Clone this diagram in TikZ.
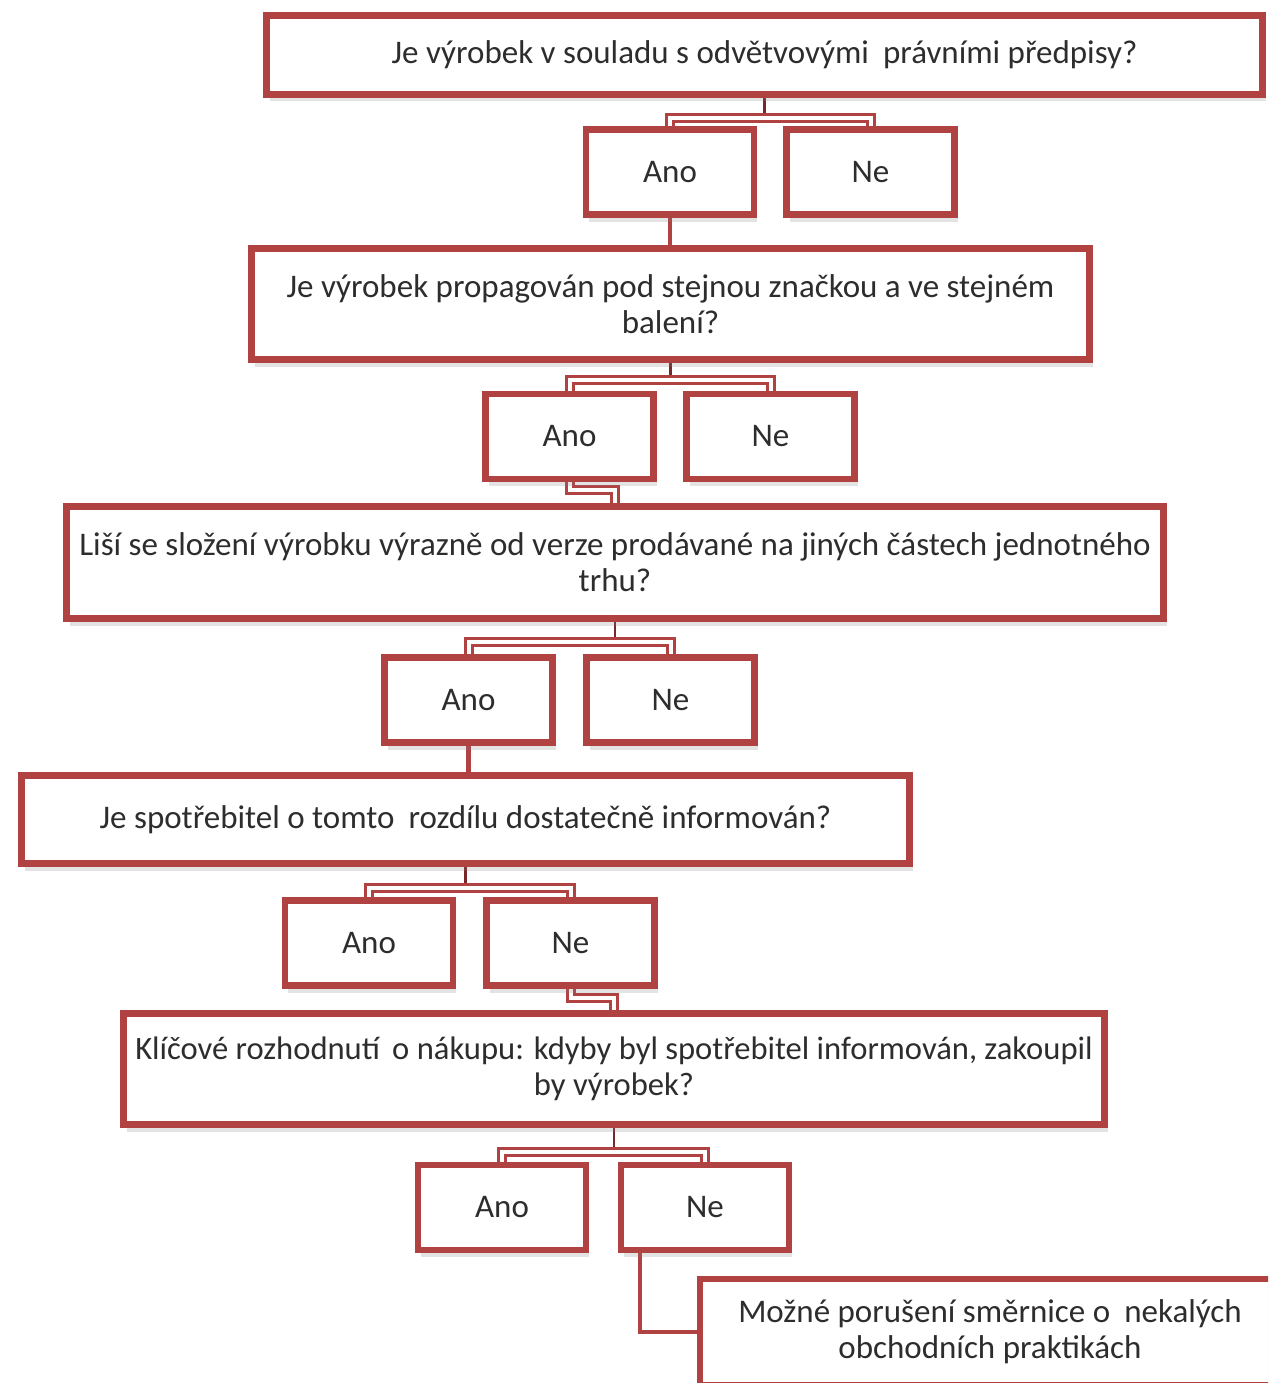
\documentclass[tikz,border=0pt]{standalone}
\usepackage{fontspec}
\setmainfont{Carlito}
\usetikzlibrary{shadows,backgrounds}
\definecolor{boxred}{RGB}{176,66,66}
\definecolor{txt}{RGB}{45,45,45}
\definecolor{stemc}{RGB}{120,40,40}
\begin{document}
\begin{tikzpicture}[x=1pt,y=-1pt,
  every node/.style={font=\fontsize{33}{36}\selectfont, text=txt},
  qbox/.style={draw=boxred, line width=6.5pt, fill=white, rectangle,
    inner sep=0pt, outer sep=0pt, align=center,
    drop shadow={shadow xshift=3pt, shadow yshift=-7pt, opacity=0.22}},
  abox/.style={qbox, minimum width=168pt, minimum height=85pt},
  dbl/.style={draw=boxred, line width=3pt, double=white, double distance=4pt},
  yeslink/.style={draw=boxred, line width=4.5pt},
  stemline/.style={draw=stemc, line width=2.2pt}
]
\useasboundingbox (0,0) rectangle (1268,1383);
\begin{scope}[on background layer]
  \fill[white] (0,0) rectangle (1268,1383);
\end{scope}
\clip (0,0) rectangle (1268,1383);

% question boxes
\node[qbox, minimum width=996pt, minimum height=79pt] (q1) at (764.5,55)
  {Je výrobek v souladu s odvětvovými\hspace{0.2em} právními předpisy?};
\node[qbox, minimum width=838pt, minimum height=111pt] (q2) at (670.5,304)
  {Je výrobek propagován pod stejnou značkou a ve stejném\\balení?};
\node[qbox, minimum width=1097pt, minimum height=112pt] (q3) at (615,562.5)
  {Liší se složení výrobku výrazně od verze prodávané na jiných částech jednotného\\trhu?};
\node[qbox, minimum width=888pt, minimum height=88pt] (q4) at (465.5,819.5)
  {Je spotřebitel o tomto\hspace{0.2em} rozdílu dostatečně informován?};
\node[qbox, minimum width=981pt, minimum height=111pt, font=\fontsize{32.6}{36}\selectfont] (q5) at (614,1069)
  {Klíčové rozhodnutí\hspace{0.15em} o nákupu: kdyby byl spotřebitel informován, zakoupil\\by výrobek?};
\node[qbox, minimum width=580pt, minimum height=106pt] (q6) at (990,1332)
  {Možné porušení směrnice o\hspace{0.2em} nekalých\\obchodních praktikách};

% answer boxes
\node[abox] (a1) at (670,172) {Ano};
\node[abox] (n1) at (870.5,172) {Ne};
\node[abox] (a2) at (569.5,436.5) {Ano};
\node[abox] (n2) at (770.5,436.5) {Ne};
\node[abox] (a3) at (468.5,700) {Ano};
\node[abox] (n3) at (670.5,700) {Ne};
\node[abox] (a4) at (369,943) {Ano};
\node[abox] (n4) at (570.5,943) {Ne};
\node[abox] (a5) at (502,1207.5) {Ano};
\node[abox] (n5) at (705,1207.5) {Ne};

% connectors
\begin{scope}[on background layer]
  % level 1
  \draw[stemline] (q1.south) -- (q1.south |- 0,118);
  \draw[dbl] (a1.north) |- (n1.north |- 0,118) -- (n1.north);
  \draw[yeslink] (a1.south) -- (a1.south |- q2.north);
  % level 2
  \draw[stemline] (q2.south) -- (q2.south |- 0,380);
  \draw[dbl] (a2.north) |- (n2.north |- 0,380) -- (n2.north);
  \draw[dbl] (a2.south) |- (q3.north |- 0,490) -- (q3.north);
  % level 3
  \draw[stemline] (q3.south) -- (q3.south |- 0,642);
  \draw[dbl] (a3.north) |- (n3.north |- 0,642) -- (n3.north);
  \draw[yeslink] (a3.south) -- (a3.south |- q4.north);
  % level 4
  \draw[stemline] (q4.south) -- (q4.south |- 0,888);
  \draw[dbl] (a4.north) |- (n4.north |- 0,888) -- (n4.north);
  \draw[dbl] (n4.south) |- (q5.north |- 0,998) -- (q5.north);
  % level 5
  \draw[stemline] (q5.south) -- (q5.south |- 0,1152);
  \draw[dbl] (a5.north) |- (n5.north |- 0,1152) -- (n5.north);
  \draw[yeslink] ([xshift=19pt]n5.south west) |- (q6.west);
\end{scope}
\end{tikzpicture}
\end{document}
